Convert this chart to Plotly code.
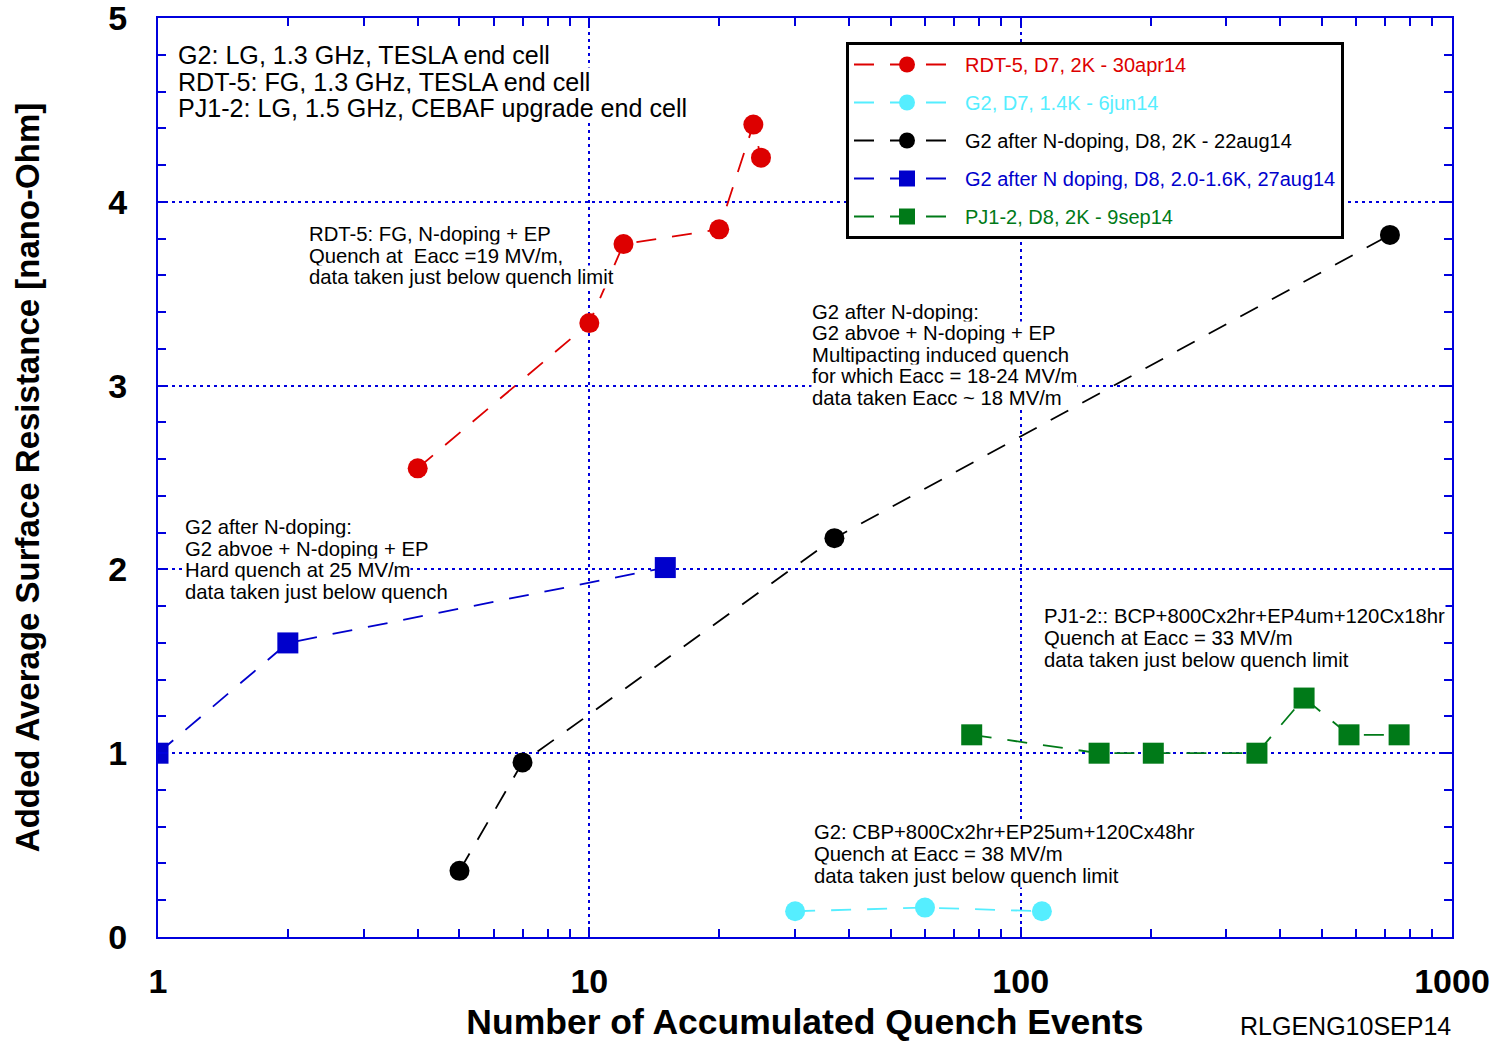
import plotly.graph_objects as go

# ---------------- data ----------------
rdt5_x = [4, 10, 12, 20, 24, 25]
rdt5_y = [2.55, 3.34, 3.77, 3.85, 4.42, 4.24]

g2_x = [30, 60, 112]
g2_y = [0.14, 0.16, 0.14]

g2n_x = [5, 7, 37, 718]
g2n_y = [0.36, 0.95, 2.17, 3.82]

g2nb_x = [1, 2, 15]
g2nb_y = [1.0, 1.6, 2.01]

pj_x = [77, 152, 203, 353, 454, 577, 754]
pj_y = [1.10, 1.0, 1.0, 1.0, 1.30, 1.10, 1.10]

legend_names = [
    "RDT-5, D7, 2K - 30apr14",
    "G2, D7, 1.4K - 6jun14",
    "G2 after N-doping, D8, 2K - 22aug14",
    "G2 after N doping, D8, 2.0-1.6K, 27aug14",
    "PJ1-2, D8, 2K - 9sep14",
]
colors = ["#dd0000", "#55eeff", "#000000", "#0000cc", "#007a18"]
symbols = ["circle", "circle", "circle", "square", "square"]

x_ticks = [1, 10, 100, 1000]
x_tick_text = ["1", "10", "100", "1000"]
y_ticks = [0, 1, 2, 3, 4, 5]

notes = [
    # (left px, list of (center y px, text)), font size
    (177, [(55, "G2: LG, 1.3 GHz, TESLA end cell"),
           (82, "RDT-5: FG, 1.3 GHz, TESLA end cell"),
           (108, "PJ1-2: LG, 1.5 GHz, CEBAF upgrade end cell")], 25.1),
    (308, [(234, "RDT-5: FG, N-doping + EP"),
           (256, "Quench at  Eacc =19 MV/m,"),
           (277, "data taken just below quench limit")], 20.3),
    (811, [(312, "G2 after N-doping:"),
           (333, "G2 abvoe + N-doping + EP"),
           (355, "Multipacting induced quench"),
           (376, "for which Eacc = 18-24 MV/m"),
           (398, "data taken Eacc ~ 18 MV/m")], 20.3),
    (184, [(527, "G2 after N-doping:"),
           (549, "G2 abvoe + N-doping + EP"),
           (570, "Hard quench at 25 MV/m"),
           (592, "data taken just below quench")], 20.3),
    (1043, [(616, "PJ1-2:: BCP+800Cx2hr+EP4um+120Cx18hr"),
            (638, "Quench at Eacc = 33 MV/m"),
            (660, "data taken just below quench limit")], 20.3),
    (813, [(832, "G2: CBP+800Cx2hr+EP25um+120Cx48hr"),
           (854, "Quench at Eacc = 38 MV/m"),
           (876, "data taken just below quench limit")], 20.3),
]

# ---------------- figure ----------------
W, H = 1497, 1042
ML, MR, MT, MB = 158, 45, 18, 105
PW, PH = W - ML - MR, H - MT - MB


def px2paper(px, py):
    return (px - ML) / PW, (H - MB - py) / PH


FONT = "Liberation Sans, Arial, Helvetica, sans-serif"
FRAME = "#0000dd"

series = [
    (rdt5_x, rdt5_y),
    (g2_x, g2_y),
    (g2n_x, g2n_y),
    (g2nb_x, g2nb_y),
    (pj_x, pj_y),
]

fig = go.Figure()
for i, (xs, ys) in enumerate(series):
    name = '<span style="color:%s">%s</span>' % (colors[i], legend_names[i])
    fig.add_trace(go.Scatter(
        x=xs, y=ys, mode="lines+markers", name=name,
        legendgroup="g%d" % i,
        line=dict(color=colors[i], width=1.8, dash="20px,16px"),
        marker=dict(color=colors[i], symbol=symbols[i],
                    size=20 if symbols[i] == "circle" else 21,
                    line=dict(width=0)),
    ))

annotations = []
for left, lines, fs in notes:
    for cy, txt in lines:
        xp, yp = px2paper(left, cy)
        annotations.append(dict(
            x=xp, y=yp, xref="paper", yref="paper", text=txt,
            showarrow=False, xanchor="left", yanchor="middle",
            font=dict(family=FONT, size=fs, color="black"),
            bgcolor="white", borderpad=0,
        ))

xp, yp = px2paper(1453, 1026)
annotations.append(dict(
    x=xp, y=yp, xref="paper", yref="paper", text="RLGENG10SEP14",
    showarrow=False, xanchor="right", yanchor="middle",
    font=dict(family=FONT, size=25, color="black"),
))

lx, ly = px2paper(846, 42)

fig.update_layout(
    width=W, height=H,
    margin=dict(l=ML, r=MR, t=MT, b=MB, pad=0, autoexpand=False),
    paper_bgcolor="white", plot_bgcolor="white",
    font=dict(family=FONT, color="black"),
    showlegend=True,
    legend=dict(
        x=lx, y=ly, xanchor="left", yanchor="top",
        bgcolor="white", bordercolor="black", borderwidth=3,
        font=dict(family=FONT, size=20),
        tracegroupgap=9, traceorder="grouped",
        itemwidth=106, itemsizing="trace",
    ),
    annotations=annotations,
    xaxis=dict(
        type="log", range=[0, 3], automargin=False,
        tickmode="array", tickvals=x_ticks, ticktext=x_tick_text,
        tickfont=dict(family=FONT, size=34, color="black", weight="bold"),
        ticks="inside", ticklen=10, tickwidth=2, tickcolor=FRAME,
        ticklabelstandoff=13, ticklabeloverflow="allow",
        minor=dict(ticks="inside", ticklen=8, tickwidth=2, tickcolor=FRAME,
                   dtick="D1", showgrid=False),
        showline=True, linecolor=FRAME, linewidth=2, mirror="ticks",
        showgrid=True, gridcolor=FRAME, gridwidth=2, griddash="3px,4px",
        zeroline=False,
        title=dict(text="Number of Accumulated Quench Events",
                   font=dict(family=FONT, size=35.5, color="black", weight="bold"),
                   standoff=16),
    ),
    yaxis=dict(
        range=[0, 5], automargin=False,
        tickmode="array", tickvals=y_ticks,
        tickfont=dict(family=FONT, size=34, color="black", weight="bold"),
        ticks="inside", ticklen=10, tickwidth=2, tickcolor=FRAME,
        ticklabelstandoff=22, ticklabeloverflow="allow",
        minor=dict(ticks="inside", ticklen=8, tickwidth=2, tickcolor=FRAME,
                   dtick=0.2, showgrid=False),
        showline=True, linecolor=FRAME, linewidth=2, mirror="ticks",
        showgrid=True, gridcolor=FRAME, gridwidth=2, griddash="3px,4px",
        zeroline=False,
        title=dict(text="Added Average Surface Resistance [nano-Ohm]",
                   font=dict(family=FONT, size=33, color="black", weight="bold"),
                   standoff=59),
    ),
)

fig.write_html("out.html")
